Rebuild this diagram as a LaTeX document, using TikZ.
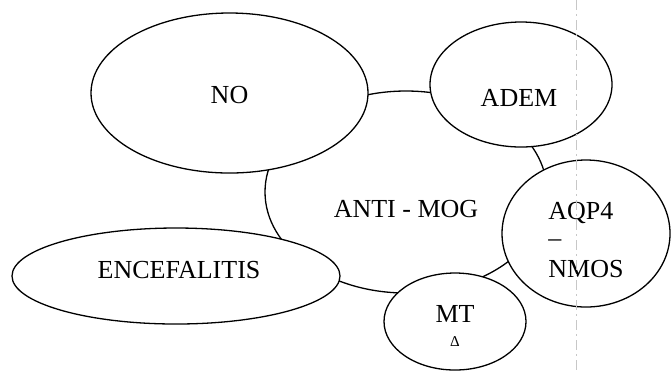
\documentclass[tikz,border=0pt]{standalone}
\usepackage{fontspec}
\setmainfont{Liberation Serif}
\usepackage{tikz}
\usetikzlibrary{shapes.geometric}
\tikzset{
  bubble/.style={
    ellipse, draw=black, line width=0.65pt, fill=white, inner sep=0pt
  },
  lbl/.style={font=\fontsize{13}{14.5}\selectfont, inner sep=0pt},
  foldline/.style={draw=black!22, line width=0.35pt, dash pattern=on 5pt off 2pt on 1pt off 2pt}
}

\begin{document}
\begin{tikzpicture}[x=0.5pt, y=-0.5pt]
    \useasboundingbox (0,0) rectangle (672,372);

    % Central disease, drawn first so the others cover it.
    \node[bubble, minimum width=141pt, minimum height=101pt,
      label={[lbl, yshift=-8.5pt]center:ANTI - MOG}] (mog) at (406,192) {};

    % Surrounding phenotypes.
    \node[bubble, minimum width=138.5pt, minimum height=80pt,
      label={[lbl, yshift=-1pt]center:NO}] (no) at (229.5,93) {};
    \node[bubble, minimum width=91pt, minimum height=62.5pt,
      label={[lbl, xshift=-1pt, yshift=-6.75pt]center:ADEM}] (adem) at (521,84.5) {};
    \node[bubble, minimum width=84pt, minimum height=73.5pt,
      label={[lbl, align=left, yshift=-3.25pt]center:AQP4\\[-0.75pt]–\\[0.75pt]NMOS}]
      (aqp) at (586,233.5) {};
    \node[bubble, minimum width=164pt, minimum height=48pt,
      label={[lbl, xshift=1.5pt, yshift=3pt]center:ENCEFALITIS}] (enc) at (176,276) {};
    \node[bubble, minimum width=71pt, minimum height=48.5pt,
      label={[lbl, align=center, yshift=-2.25pt]center:MT\\[-2.25pt]{\fontsize{7.5}{8}\selectfont Δ}}]
      (mt) at (455,321.5) {};

    % Fold of the scanned page.
    \draw[foldline] (576,0) -- (576,372);
  \end{tikzpicture}
\end{document}
